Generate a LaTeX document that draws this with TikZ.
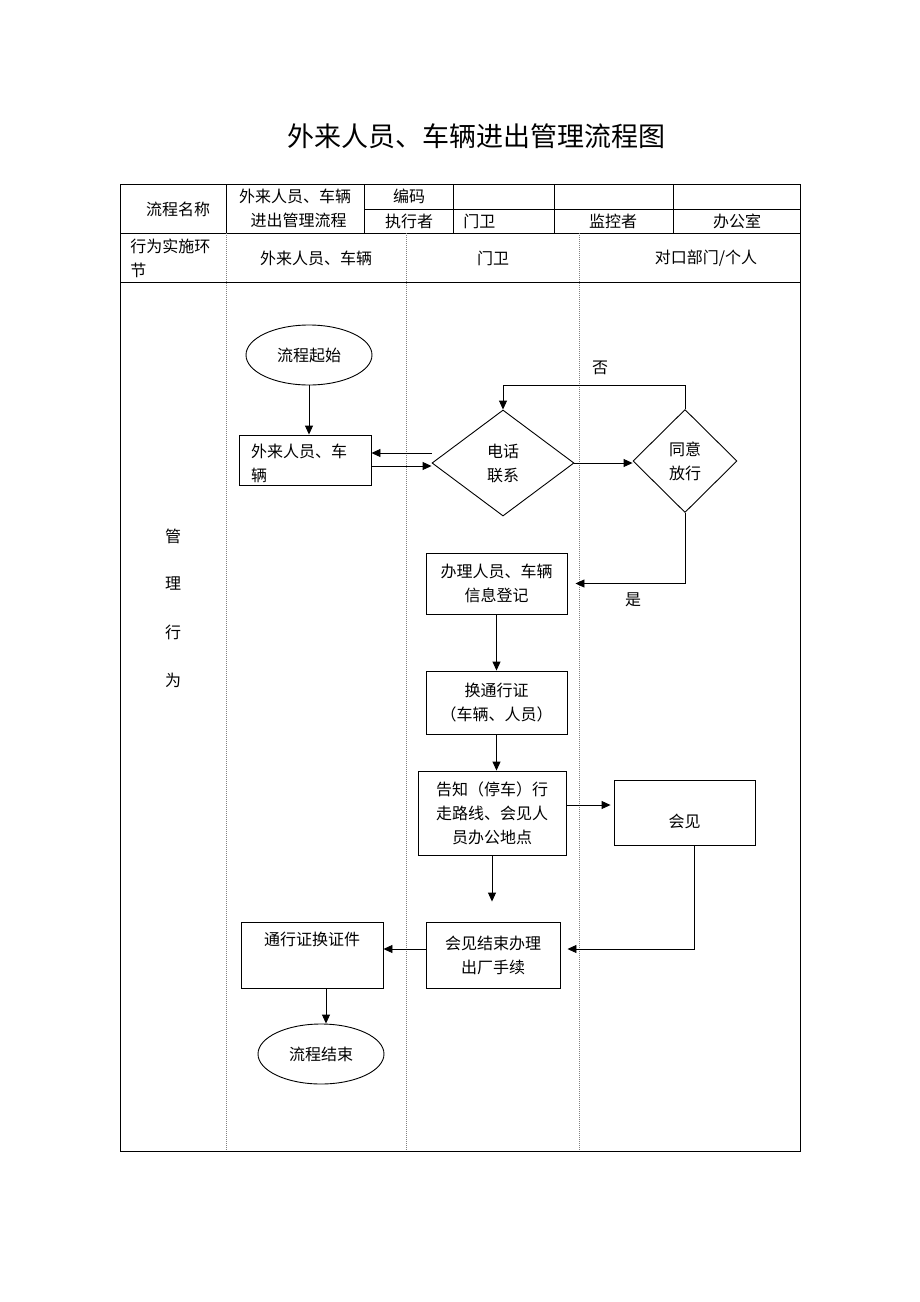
\documentclass[tikz,border=0pt]{standalone}
\usepackage{fontspec}
\setmainfont{Noto Sans CJK SC}
\usetikzlibrary{shapes.geometric, arrows.meta}

\begin{document}
\begin{tikzpicture}[x=1pt, y=-1pt, line width=0.9pt,
  >={Triangle[length=9pt,width=8pt]},
  every node/.style={font=\fontsize{16}{24}\selectfont, inner sep=0pt},
  box/.style={draw, rectangle, align=center},
  decision/.style={draw, diamond, align=center},
  terminal/.style={draw, ellipse, minimum width=126, minimum height=60},
  lane/.style={dash pattern=on 1pt off 1pt, line width=0.6pt, gray}]
\useasboundingbox (0,0) rectangle (920,1302);
\node (title) at (476,136) [font=\fontsize{27}{30}\selectfont] {外来人员、车辆进出管理流程图};

% table frame
\draw (120,184) rectangle (800,1151);
\draw (364,209) -- (800,209);
\draw (120,233) -- (800,233);
\draw (120,282) -- (800,282);
\foreach \x in {226,364,453,554,673} \draw (\x,184) -- (\x,233);
\foreach \x in {226,406,579} \draw[lane] (\x,233) -- (\x,1151);

% header texts
\node (hname) at (178,209) {流程名称};
\node (hproc) at (295,208) [align=center] {外来人员、车辆\\\hspace*{7pt}进出管理流程};
\node (hcode) at (409,196) {编码};
\node (hexec) at (409,221) {执行者};
\node (hguard) at (463,221) [anchor=west] {门卫};
\node (hmon) at (613,221) {监控者};
\node (hoff) at (737,221) {办公室};
\node (hstep) at (130,258) [anchor=west, align=left] {行为实施环\\节};
\node (lvisit) at (316,258) {外来人员、车辆};
\node (lguard) at (493,258) {门卫};
\node (ldept) at (706,258) {对口部门/个人};
\foreach \c [count=\i] in {管,理,行,为}
  \node (act\i) at (173,488+48*\i) {\c};

% flow
\node[terminal] (start) at (309,355) {流程起始};
\node[box, minimum width=132, minimum height=50,
  label={[anchor=north west, align=left, xshift=12, yshift=-9]north west:外来人员、车\\辆}] (visitor) at (305,460) {};
\node[decision, minimum width=142, minimum height=106] (phone) at (503,463) {电话\\联系};
\node[decision, minimum width=104, minimum height=103] (agree) at (685,461) {同意\\放行};
\node[box, minimum width=141, minimum height=61] (register) at (496.5,583.5) {办理人员、车辆\\信息登记};
\node[box, minimum width=141, minimum height=63] (permit) at (496.5,702.5) {换通行证\\（车辆、人员）};
\node[box, minimum width=148, minimum height=84] (notify) at (492,813) {告知（停车）行\\走路线、会见人\\员办公地点};
\node[box, minimum width=141, minimum height=65,
  label={[anchor=north, yshift=-34]north:会见}] (meet) at (684.5,812.5) {};
\node[box, minimum width=134, minimum height=66] (leave) at (493,955) {会见结束办理\\出厂手续};
\node[box, minimum width=142, minimum height=66,
  label={[anchor=north, yshift=-10]north:通行证换证件}] (swap) at (312,955) {};
\node[terminal] (finish) at (321,1054) {流程结束};

\node (no) at (600,368) {否};
\node (yes) at (633,600) {是};

% connectors
\draw[->] (start.south) -- (start.south |- visitor.north);
\draw[->] ([yshift=10]phone.west) -- ([yshift=10]phone.west -| visitor.east);
\draw[->] ([yshift=-3]phone.west -| visitor.east) -- ([yshift=-3]phone.west);
\draw[->] (phone.east) -- (phone.east -| agree.west);
\draw[->] (agree.north) -- ++(0,-24) -| (phone.north);
\draw[->, shorten >=8pt] (agree.south) |- (register.east);
\draw[->] (register) -- (permit);
\draw[->] (permit.south) -- (permit.south |- notify.north);
\draw[->, shorten >=3pt] ([yshift=8]notify.east) -- ([yshift=8]notify.east -| meet.west);
\draw[->, shorten >=20pt] (notify.south) -- (notify.south |- leave.north);
\draw[->, shorten >=7pt] ([xshift=10]meet.south) |- ([yshift=6]leave.east);
\draw[->] ([yshift=6]leave.west) -- ([yshift=6]swap.east);
\draw[->] ([xshift=14]swap.south) -- ([xshift=14]swap.south |- finish.north);
\end{tikzpicture}
\end{document}
